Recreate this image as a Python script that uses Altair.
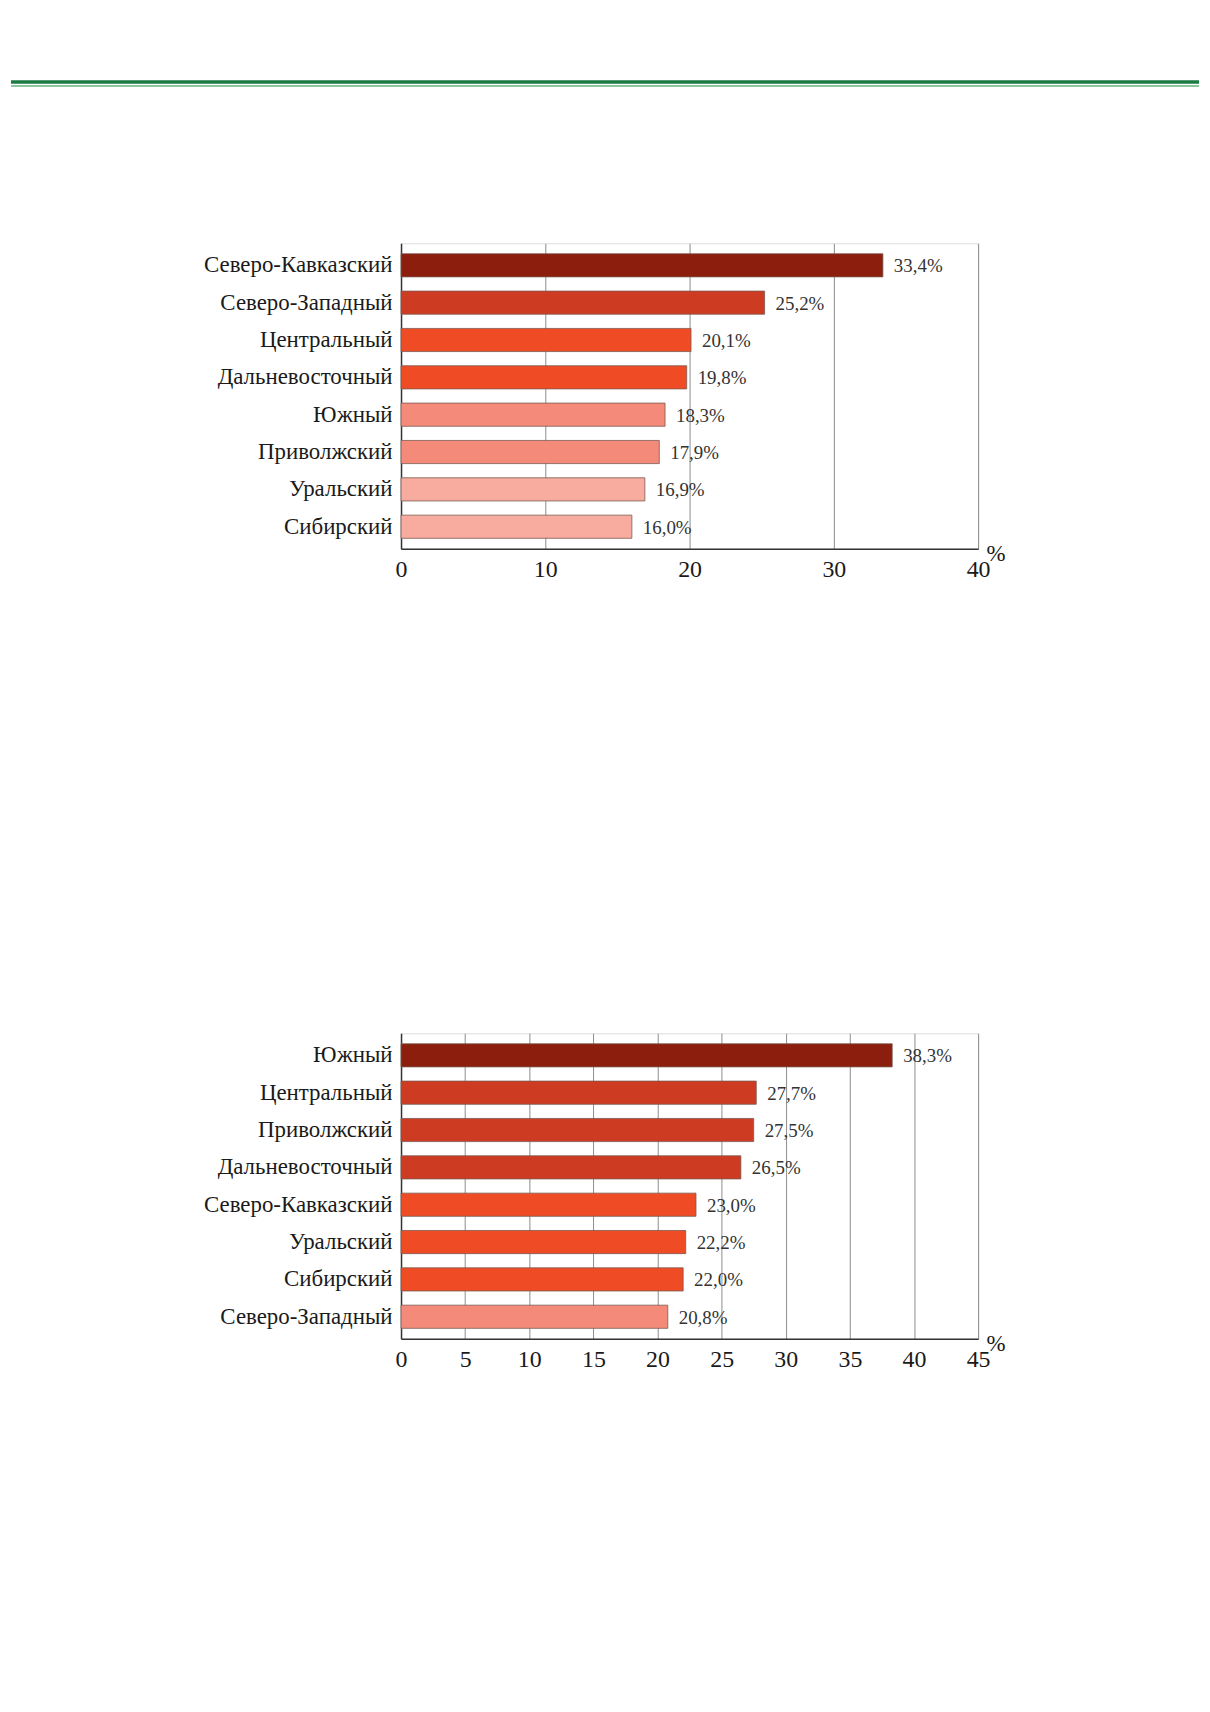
import altair as alt
import pandas as pd

# ---- data ----
top_regions = ["Северо-Кавказский", "Северо-Западный", "Центральный", "Дальневосточный",
               "Южный", "Приволжский", "Уральский", "Сибирский"]
top_values = [33.4, 25.2, 20.1, 19.8, 18.3, 17.9, 16.9, 16.0]
top_levels = [1, 2, 3, 3, 4, 4, 5, 5]
top_ticks = [0, 10, 20, 30, 40]

bottom_regions = ["Южный", "Центральный", "Приволжский", "Дальневосточный",
                  "Северо-Кавказский", "Уральский", "Сибирский", "Северо-Западный"]
bottom_values = [38.3, 27.7, 27.5, 26.5, 23.0, 22.2, 22.0, 20.8]
bottom_levels = [1, 2, 2, 2, 3, 3, 3, 4]
bottom_ticks = [0, 5, 10, 15, 20, 25, 30, 35, 40, 45]

unit_label = ["%"]

# ---- style ----
palette = ["#8B1E0C", "#CD3B22", "#EF4B25", "#F48A79", "#F8AC9F"]
W, H = 580, 307
FONT = "Liberation Serif"


def panel(regions, values, levels, ticks, header=False):
    df = pd.DataFrame({"region": regions, "value": values, "level": levels})
    base = alt.Chart(df)
    y_enc = alt.Y(
        "region:N", sort=regions, title=None,
        scale=alt.Scale(paddingInner=0.38, paddingOuter=0.28),
        axis=alt.Axis(labelFont=FONT, labelFontSize=23, labelColor="#1a1a1a",
                      labelPadding=9, ticks=False, tickSize=0, domainColor="#333333",
                      domainWidth=1.5, grid=False, labelLimit=400),
    )
    x_enc = alt.X(
        "value:Q", title=None,
        scale=alt.Scale(domain=[ticks[0], ticks[-1]], nice=False, zero=True),
        axis=alt.Axis(values=ticks, labelFont=FONT, labelFontSize=24,
                      labelColor="#1a1a1a", labelPadding=9, ticks=False, tickSize=0,
                      labelFlush=False, domainColor="#333333", domainWidth=1.5,
                      grid=True, gridColor="#8c8c8c", gridWidth=1, format="d"),
    )
    bars = base.mark_bar(stroke="#7a5a50", strokeWidth=0.8).encode(
        x=x_enc, y=y_enc,
        color=alt.Color("level:O", scale=alt.Scale(domain=[1, 2, 3, 4, 5], range=palette),
                        legend=None),
    )
    labels = base.transform_calculate(
        label="replace(format(datum.value, '.1f'), '.', ',') + '%'"
    ).mark_text(align="left", baseline="middle", dx=11, dy=1, font=FONT, fontSize=19,
                color="#333333").encode(
        x="value:Q", y=alt.Y("region:N", sort=regions), text="label:N"
    )
    unit_df = pd.DataFrame({"u": unit_label})
    pct = alt.Chart(unit_df).mark_text(
        font=FONT, fontSize=23, color="#1a1a1a", align="center", baseline="middle"
    ).encode(x=alt.value(W + 18), y=alt.value(H + 5), text="u:N")
    layers = [bars, labels, pct]
    if header:
        hdf = pd.DataFrame({"h": [0]})
        dark = alt.Chart(hdf).mark_rule(color="#1d7a43", strokeWidth=3.5).encode(
            x=alt.value(-392), x2=alt.value(802), y=alt.value(-162))
        light = alt.Chart(hdf).mark_rule(color="#8cc7a0", strokeWidth=2).encode(
            x=alt.value(-392), x2=alt.value(802), y=alt.value(-158))
        layers = [dark, light] + layers
    return alt.layer(*layers).properties(width=W, height=H)


top = panel(top_regions, top_values, top_levels, top_ticks, header=True)
bottom = panel(bottom_regions, bottom_values, bottom_levels, bottom_ticks)

chart = alt.vconcat(top, bottom, spacing=487, bounds="flush").properties(
    padding={"left": 0, "top": 68, "right": 0, "bottom": 10}
).configure_view(stroke=None).configure(background="white")

chart.save("out.html", embed_options={"renderer": "svg", "actions": False})
